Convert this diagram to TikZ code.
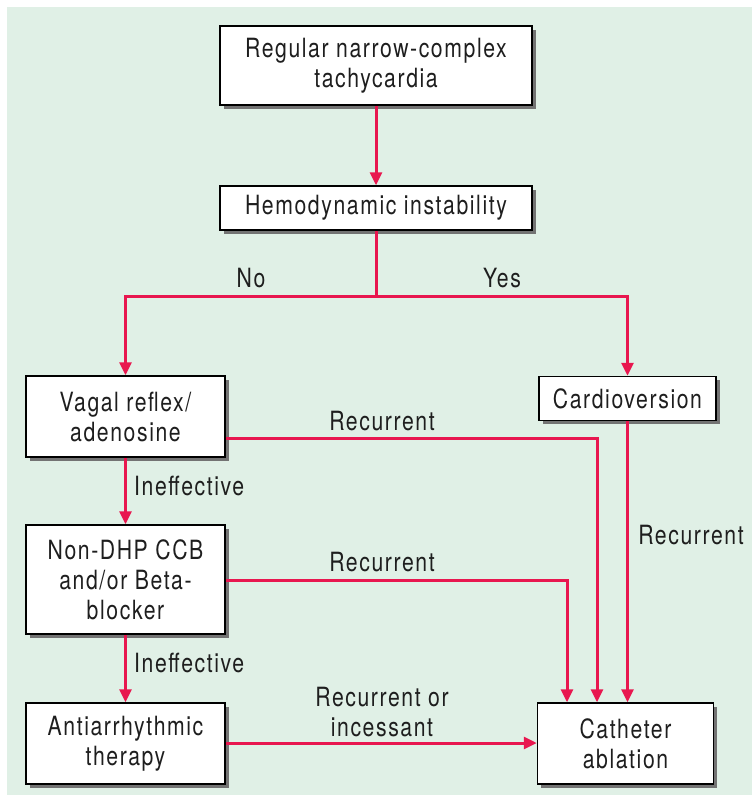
\documentclass[tikz,border=0pt]{standalone}
\usepackage{fontspec}
\setmainfont{TeX Gyre Heros}[FakeStretch=0.8,LetterSpace=6]
\usetikzlibrary{arrows.meta,shadows}
\definecolor{panel}{HTML}{E0F0E6}
\definecolor{flow}{HTML}{E8174F}
\definecolor{ink}{HTML}{1E1E1E}
\begin{document}
\begin{tikzpicture}[x=1pt,y=1pt,
  font=\fontsize{26.5}{30}\selectfont, text=ink,
  box/.style={draw=black, line width=1.5pt, fill=white, align=center,
    inner sep=0pt,
    drop shadow={shadow xshift=3.5pt, shadow yshift=-3.5pt, fill=black!55, opacity=1}},
  link/.style={draw=flow, line width=3pt},
  arr/.style={link, -{Triangle[length=13pt,width=12pt]}},
  lbl/.style={inner sep=0pt, align=center}]
% page and panel
\useasboundingbox (0,0) rectangle (752,-796);
\fill[white] (0,0) rectangle (752,-796);
\fill[panel] (7,-7) rectangle (752,-795);

% boxes
\node[box, minimum width=312pt, minimum height=79pt] (start) at (376,-65.5)
  {Regular narrow-complex\\tachycardia};
\node[box, minimum width=312pt, minimum height=44pt] (hemo) at (376,-208)
  {Hemodynamic instability};
\node[box, minimum width=199pt, minimum height=81pt] (vagal) at (125.5,-416.5)
  {Vagal reflex/\\adenosine};
\node[box, minimum width=177pt, minimum height=44pt] (cardio) at (627.5,-398.5)
  {Cardioversion};
\node[box, minimum width=199pt, minimum height=109pt] (ccb) at (125.5,-579.5)
  {Non-DHP CCB\\and/or Beta-\\blocker};
\node[box, minimum width=199pt, minimum height=81pt] (anti) at (125.5,-743.5)
  {Antiarrhythmic\\therapy};
\node[box, minimum width=176pt, minimum height=81pt] (abl) at (625.5,-743.5)
  {Catheter\\ablation};

% branch point under the instability box
\coordinate (split) at (376,-296);

% connectors
\draw[arr] (start) -- (hemo);
\draw[link] (hemo.south) -- (split);
\draw[arr] (split) -| (vagal.north);
\draw[arr] (split) -| (cardio.north);
\draw[arr] (vagal) -- (ccb);
\draw[arr] (ccb) -- (anti);
\draw[arr] ([yshift=-21.5pt]vagal.east) -| ([xshift=-28.5pt]abl.north);
\draw[arr] ([yshift=-0.5pt]ccb.east) -| ([xshift=-58.5pt]abl.north);
\draw[arr] (cardio.south) -- (cardio.south |- abl.north);
\draw[arr] ([yshift=0.5pt]anti.east) -- ([yshift=0.5pt]abl.west);

% labels
\node[lbl] (no) at (251,-278) {No};
\node[lbl] (yes) at (502,-278) {Yes};
\node[lbl] (r1) at (382,-421) {Recurrent};
\node[lbl] (r2) at (382,-562) {Recurrent};
\node[lbl] (r3) at (691,-535) {Recurrent};
\node[lbl] (r4) at (382,-712) {Recurrent or\\incessant};
\node[lbl, anchor=west] (i1) at (134,-486) {Ineffective};
\node[lbl, anchor=west] (i2) at (134,-663) {Ineffective};
\end{tikzpicture}
\end{document}
